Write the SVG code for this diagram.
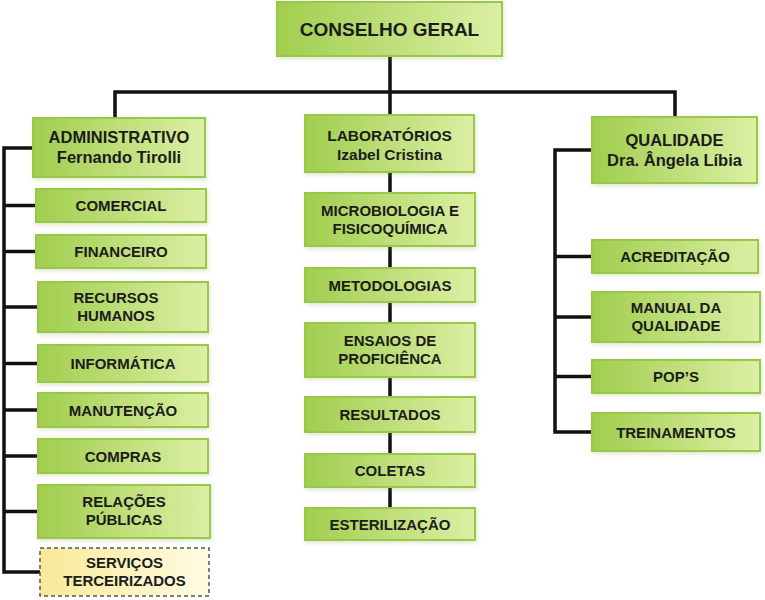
<svg xmlns="http://www.w3.org/2000/svg" width="765" height="600" viewBox="0 0 765 600">
<defs>
<linearGradient id="g" x1="0" y1="0" x2="1" y2="0">
<stop offset="0" stop-color="#a0ce4e"/>
<stop offset="1" stop-color="#dcefa4"/>
</linearGradient>
<linearGradient id="y" x1="0" y1="0" x2="1" y2="0">
<stop offset="0" stop-color="#f8ea98"/>
<stop offset="1" stop-color="#fffbe2"/>
</linearGradient>
<filter id="sh" x="-10%" y="-20%" width="120%" height="140%">
<feDropShadow dx="1" dy="2" stdDeviation="2" flood-color="#7a9a40" flood-opacity="0.25"/>
</filter>
</defs>
<style>
.b{fill:url(#g);stroke:#98c74a;stroke-width:2;filter:url(#sh)}
.d{fill:url(#y);stroke:#555;stroke-width:1.5;stroke-dasharray:4 3}
text{font-family:"Liberation Sans",Arial,sans-serif;font-weight:bold;fill:#1c1c1c;text-anchor:middle;font-size:15px}
.h{font-size:16.5px}
.l{font-size:15.5px}
.t{font-size:19px}
.c{fill:none;stroke:#111;stroke-width:3.5}
</style>
<rect width="765" height="600" fill="#fff"/>
<g id="connectors">
<path class="c" d="M390,56V92M115,118V92H675V117"/>
<path class="c" d="M390,92V508"/>
<path class="c" d="M33,148H4V572H40M4,205.5H36M4,251.5H36M4,307H38M4,363.5H38M4,410H38M4,456H38M4,511.5H38"/>
<path class="c" d="M592,150H555V432H592M555,256.5H592M555,317H592M555,376.5H592"/>
</g>
<g id="conselho"><rect class="b" x="277" y="2" width="225" height="54"/><text class="t" x="389.5" y="36">CONSELHO GERAL</text></g>
<g id="administrativo"><rect class="b" x="33" y="118" width="172" height="59"/><text class="h" x="119" y="143">ADMINISTRATIVO</text><text class="h" x="119" y="162.5">Fernando Tirolli</text></g>
<g id="comercial"><rect class="b" x="36" y="189" width="170" height="33"/><text x="121" y="211">COMERCIAL</text></g>
<g id="financeiro"><rect class="b" x="36" y="235" width="170" height="33"/><text x="121" y="257">FINANCEIRO</text></g>
<g id="rh"><rect class="b" x="38" y="282" width="170" height="50"/><text x="116" y="303">RECURSOS</text><text x="116" y="320.5">HUMANOS</text></g>
<g id="informatica"><rect class="b" x="38" y="345" width="170" height="37"/><text x="123" y="369">INFORMÁTICA</text></g>
<g id="manutencao"><rect class="b" x="38" y="393" width="170" height="34"/><text x="123" y="415.5">MANUTENÇÃO</text></g>
<g id="compras"><rect class="b" x="38" y="439" width="170" height="34"/><text x="123" y="461.5">COMPRAS</text></g>
<g id="rp"><rect class="b" x="38" y="485" width="172" height="53"/><text x="124" y="507">RELAÇÕES</text><text x="124" y="525">PÚBLICAS</text></g>
<g id="servicos"><rect class="d" x="40" y="548" width="169" height="48"/><text x="124.5" y="568">SERVIÇOS</text><text x="124.5" y="586">TERCEIRIZADOS</text></g>
<g id="laboratorios"><rect class="b" x="305" y="115" width="169" height="57"/><text class="l" x="389.5" y="141">LABORATÓRIOS</text><text class="l" x="389.5" y="160">Izabel Cristina</text></g>
<g id="micro"><rect class="b" x="305" y="193" width="170" height="53"/><text x="390" y="216">MICROBIOLOGIA E</text><text x="390" y="234">FISICOQUÍMICA</text></g>
<g id="metodologias"><rect class="b" x="305" y="268" width="170" height="34"/><text x="390" y="290.5">METODOLOGIAS</text></g>
<g id="ensaios"><rect class="b" x="305" y="323" width="170" height="54"/><text x="390" y="346">ENSAIOS DE</text><text x="390" y="364">PROFICIÊNCA</text></g>
<g id="resultados"><rect class="b" x="305" y="397" width="170" height="35"/><text x="390" y="420">RESULTADOS</text></g>
<g id="coletas"><rect class="b" x="305" y="454" width="170" height="33"/><text x="390" y="476">COLETAS</text></g>
<g id="esterilizacao"><rect class="b" x="305" y="508" width="170" height="32"/><text x="390" y="529.5">ESTERILIZAÇÃO</text></g>
<g id="qualidade"><rect class="b" x="592" y="117" width="165" height="66"/><text class="h" x="674.5" y="146">QUALIDADE</text><text class="h" x="674.5" y="166">Dra. Ângela Líbia</text></g>
<g id="acreditacao"><rect class="b" x="592" y="240" width="166" height="33"/><text x="675" y="262">ACREDITAÇÃO</text></g>
<g id="manual"><rect class="b" x="592" y="292" width="168" height="50"/><text x="676" y="313">MANUAL DA</text><text x="676" y="331">QUALIDADE</text></g>
<g id="pops"><rect class="b" x="592" y="360" width="168" height="33"/><text x="676" y="382">POP’S</text></g>
<g id="treinamentos"><rect class="b" x="592" y="413" width="168" height="38"/><text x="676" y="437.5">TREINAMENTOS</text></g>
</svg>
